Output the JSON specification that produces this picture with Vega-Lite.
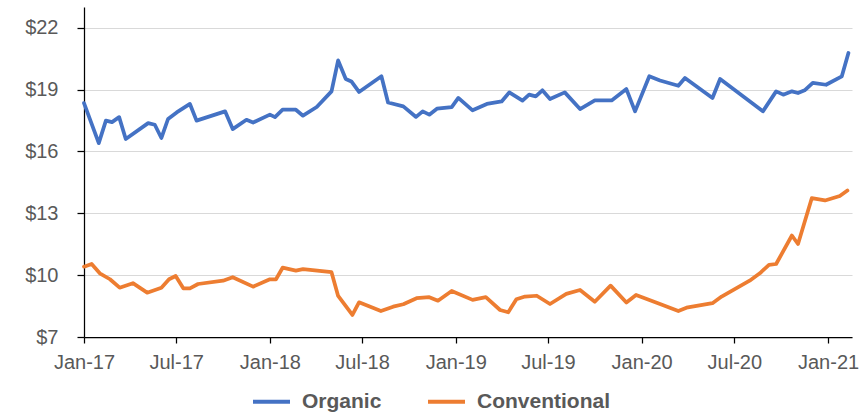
{
  "$schema": "https://vega.github.io/schema/vega-lite/v6.json",
  "width": 768,
  "height": 330,
  "autosize": {"type": "none"},
  "padding": {"left": 84, "top": 7, "right": 13, "bottom": 81},
  "background": "white",
  "config": {
    "view": {"stroke": null},
    "font": "Liberation Sans",
    "axis": {"labelFont": "Liberation Sans", "labelColor": "#595959", "labelFontSize": 20},
    "legend": {"labelFont": "Liberation Sans"}
  },
  "datasets": {
    "prices": [
      {"date": "2017/01/01", "type": "Organic", "price": 18.34},
      {"date": "2017/01/30", "type": "Organic", "price": 16.40},
      {"date": "2017/02/13", "type": "Organic", "price": 17.49},
      {"date": "2017/02/25", "type": "Organic", "price": 17.42},
      {"date": "2017/03/11", "type": "Organic", "price": 17.66},
      {"date": "2017/03/24", "type": "Organic", "price": 16.60},
      {"date": "2017/05/07", "type": "Organic", "price": 17.37},
      {"date": "2017/05/20", "type": "Organic", "price": 17.29},
      {"date": "2017/06/02", "type": "Organic", "price": 16.65},
      {"date": "2017/06/15", "type": "Organic", "price": 17.57},
      {"date": "2017/07/02", "type": "Organic", "price": 17.89},
      {"date": "2017/07/28", "type": "Organic", "price": 18.30},
      {"date": "2017/08/10", "type": "Organic", "price": 17.49},
      {"date": "2017/10/05", "type": "Organic", "price": 17.94},
      {"date": "2017/10/20", "type": "Organic", "price": 17.08},
      {"date": "2017/11/16", "type": "Organic", "price": 17.53},
      {"date": "2017/11/29", "type": "Organic", "price": 17.40},
      {"date": "2018/01/01", "type": "Organic", "price": 17.78},
      {"date": "2018/01/11", "type": "Organic", "price": 17.66},
      {"date": "2018/01/26", "type": "Organic", "price": 18.02},
      {"date": "2018/02/21", "type": "Organic", "price": 18.02},
      {"date": "2018/03/07", "type": "Organic", "price": 17.73},
      {"date": "2018/04/03", "type": "Organic", "price": 18.15},
      {"date": "2018/05/02", "type": "Organic", "price": 18.91},
      {"date": "2018/05/15", "type": "Organic", "price": 20.41},
      {"date": "2018/05/30", "type": "Organic", "price": 19.51},
      {"date": "2018/06/10", "type": "Organic", "price": 19.39},
      {"date": "2018/06/25", "type": "Organic", "price": 18.88},
      {"date": "2018/08/08", "type": "Organic", "price": 19.64},
      {"date": "2018/08/21", "type": "Organic", "price": 18.37},
      {"date": "2018/09/20", "type": "Organic", "price": 18.18},
      {"date": "2018/10/15", "type": "Organic", "price": 17.67},
      {"date": "2018/10/28", "type": "Organic", "price": 17.94},
      {"date": "2018/11/10", "type": "Organic", "price": 17.78},
      {"date": "2018/11/25", "type": "Organic", "price": 18.07},
      {"date": "2018/12/24", "type": "Organic", "price": 18.15},
      {"date": "2019/01/06", "type": "Organic", "price": 18.59},
      {"date": "2019/02/03", "type": "Organic", "price": 17.99},
      {"date": "2019/03/03", "type": "Organic", "price": 18.30},
      {"date": "2019/04/01", "type": "Organic", "price": 18.42},
      {"date": "2019/04/16", "type": "Organic", "price": 18.86},
      {"date": "2019/05/12", "type": "Organic", "price": 18.46},
      {"date": "2019/05/25", "type": "Organic", "price": 18.75},
      {"date": "2019/06/07", "type": "Organic", "price": 18.67},
      {"date": "2019/06/20", "type": "Organic", "price": 18.96},
      {"date": "2019/07/05", "type": "Organic", "price": 18.54},
      {"date": "2019/08/03", "type": "Organic", "price": 18.86},
      {"date": "2019/09/02", "type": "Organic", "price": 18.05},
      {"date": "2019/10/01", "type": "Organic", "price": 18.47},
      {"date": "2019/11/03", "type": "Organic", "price": 18.47},
      {"date": "2019/12/02", "type": "Organic", "price": 19.02},
      {"date": "2019/12/19", "type": "Organic", "price": 17.94},
      {"date": "2020/01/16", "type": "Organic", "price": 19.64},
      {"date": "2020/02/06", "type": "Organic", "price": 19.44},
      {"date": "2020/03/13", "type": "Organic", "price": 19.18},
      {"date": "2020/03/26", "type": "Organic", "price": 19.56},
      {"date": "2020/05/19", "type": "Organic", "price": 18.59},
      {"date": "2020/06/03", "type": "Organic", "price": 19.51},
      {"date": "2020/08/26", "type": "Organic", "price": 17.94},
      {"date": "2020/09/21", "type": "Organic", "price": 18.91},
      {"date": "2020/10/05", "type": "Organic", "price": 18.75},
      {"date": "2020/10/22", "type": "Organic", "price": 18.91},
      {"date": "2020/11/03", "type": "Organic", "price": 18.83},
      {"date": "2020/11/16", "type": "Organic", "price": 18.96},
      {"date": "2020/12/02", "type": "Organic", "price": 19.32},
      {"date": "2020/12/28", "type": "Organic", "price": 19.23},
      {"date": "2021/01/28", "type": "Organic", "price": 19.64},
      {"date": "2021/02/10", "type": "Organic", "price": 20.77},
      {"date": "2017/01/01", "type": "Conventional", "price": 10.41},
      {"date": "2017/01/16", "type": "Conventional", "price": 10.54},
      {"date": "2017/02/01", "type": "Conventional", "price": 10.09},
      {"date": "2017/02/21", "type": "Conventional", "price": 9.80},
      {"date": "2017/03/12", "type": "Conventional", "price": 9.39},
      {"date": "2017/04/07", "type": "Conventional", "price": 9.61},
      {"date": "2017/05/05", "type": "Conventional", "price": 9.15},
      {"date": "2017/06/02", "type": "Conventional", "price": 9.39},
      {"date": "2017/06/17", "type": "Conventional", "price": 9.80},
      {"date": "2017/06/30", "type": "Conventional", "price": 9.96},
      {"date": "2017/07/15", "type": "Conventional", "price": 9.36},
      {"date": "2017/07/28", "type": "Conventional", "price": 9.36},
      {"date": "2017/08/13", "type": "Conventional", "price": 9.57},
      {"date": "2017/10/01", "type": "Conventional", "price": 9.73},
      {"date": "2017/10/20", "type": "Conventional", "price": 9.90},
      {"date": "2017/11/29", "type": "Conventional", "price": 9.44},
      {"date": "2018/01/01", "type": "Conventional", "price": 9.80},
      {"date": "2018/01/13", "type": "Conventional", "price": 9.80},
      {"date": "2018/01/26", "type": "Conventional", "price": 10.36},
      {"date": "2018/02/21", "type": "Conventional", "price": 10.22},
      {"date": "2018/03/07", "type": "Conventional", "price": 10.29},
      {"date": "2018/05/02", "type": "Conventional", "price": 10.14},
      {"date": "2018/05/15", "type": "Conventional", "price": 8.99},
      {"date": "2018/06/12", "type": "Conventional", "price": 8.07},
      {"date": "2018/06/25", "type": "Conventional", "price": 8.68},
      {"date": "2018/08/07", "type": "Conventional", "price": 8.26},
      {"date": "2018/08/31", "type": "Conventional", "price": 8.47},
      {"date": "2018/09/20", "type": "Conventional", "price": 8.59},
      {"date": "2018/10/16", "type": "Conventional", "price": 8.88},
      {"date": "2018/11/10", "type": "Conventional", "price": 8.93},
      {"date": "2018/11/27", "type": "Conventional", "price": 8.76},
      {"date": "2018/12/24", "type": "Conventional", "price": 9.23},
      {"date": "2019/02/03", "type": "Conventional", "price": 8.80},
      {"date": "2019/03/01", "type": "Conventional", "price": 8.93},
      {"date": "2019/03/29", "type": "Conventional", "price": 8.31},
      {"date": "2019/04/14", "type": "Conventional", "price": 8.20},
      {"date": "2019/04/30", "type": "Conventional", "price": 8.83},
      {"date": "2019/05/17", "type": "Conventional", "price": 8.96},
      {"date": "2019/06/09", "type": "Conventional", "price": 9.00},
      {"date": "2019/07/05", "type": "Conventional", "price": 8.60},
      {"date": "2019/08/06", "type": "Conventional", "price": 9.09},
      {"date": "2019/09/02", "type": "Conventional", "price": 9.28},
      {"date": "2019/10/01", "type": "Conventional", "price": 8.71},
      {"date": "2019/11/01", "type": "Conventional", "price": 9.49},
      {"date": "2019/12/02", "type": "Conventional", "price": 8.67},
      {"date": "2019/12/21", "type": "Conventional", "price": 9.04},
      {"date": "2020/02/06", "type": "Conventional", "price": 8.60},
      {"date": "2020/03/13", "type": "Conventional", "price": 8.26},
      {"date": "2020/03/29", "type": "Conventional", "price": 8.42},
      {"date": "2020/05/19", "type": "Conventional", "price": 8.64},
      {"date": "2020/06/06", "type": "Conventional", "price": 8.96},
      {"date": "2020/07/31", "type": "Conventional", "price": 9.73},
      {"date": "2020/08/20", "type": "Conventional", "price": 10.09},
      {"date": "2020/09/07", "type": "Conventional", "price": 10.50},
      {"date": "2020/09/21", "type": "Conventional", "price": 10.54},
      {"date": "2020/10/22", "type": "Conventional", "price": 11.92},
      {"date": "2020/11/03", "type": "Conventional", "price": 11.51},
      {"date": "2020/11/30", "type": "Conventional", "price": 13.73},
      {"date": "2020/12/26", "type": "Conventional", "price": 13.62},
      {"date": "2021/01/24", "type": "Conventional", "price": 13.84},
      {"date": "2021/02/08", "type": "Conventional", "price": 14.10}
    ]
  },
  "data": {"name": "prices"},
  "mark": {"type": "line", "strokeWidth": 3.75, "strokeJoin": "round", "strokeCap": "round"},
  "encoding": {
    "x": {
      "field": "date",
      "type": "temporal",
      "scale": {"domain": [{"year": 2017, "month": 1, "date": 1}, {"year": 2021, "month": 2, "date": 17}]},
      "axis": {
        "title": null,
        "grid": false,
        "format": "%b-%y",
        "values": [
          {"year": 2017, "month": 1, "date": 1},
          {"year": 2017, "month": 7, "date": 1},
          {"year": 2018, "month": 1, "date": 1},
          {"year": 2018, "month": 7, "date": 1},
          {"year": 2019, "month": 1, "date": 1},
          {"year": 2019, "month": 7, "date": 1},
          {"year": 2020, "month": 1, "date": 1},
          {"year": 2020, "month": 7, "date": 1},
          {"year": 2021, "month": 1, "date": 1}
        ],
        "domainColor": "#000000",
        "domainWidth": 1.25,
        "tickColor": "#000000",
        "tickSize": 6,
        "tickWidth": 1.25,
        "labelPadding": 9,
        "labelAngle": 0,
        "labelFlush": false,
        "labelOverlap": false
      }
    },
    "y": {
      "field": "price",
      "type": "quantitative",
      "scale": {"domain": [7, 23], "nice": false, "zero": false},
      "axis": {
        "title": null,
        "values": [7, 10, 13, 16, 19, 22],
        "format": "$.0f",
        "grid": true,
        "gridColor": "#d9d9d9",
        "gridWidth": 1,
        "domainColor": "#000000",
        "domainWidth": 1.25,
        "tickColor": "#000000",
        "tickSize": 7,
        "tickWidth": 1.25,
        "labelPadding": 19
      }
    },
    "color": {
      "field": "type",
      "type": "nominal",
      "sort": ["Organic", "Conventional"],
      "scale": {"domain": ["Organic", "Conventional"], "range": ["#4472C4", "#ED7D31"]},
      "legend": {
        "title": null,
        "orient": "none",
        "direction": "horizontal",
        "legendX": 167,
        "legendY": 374,
        "symbolType": "stroke",
        "symbolSize": 1369,
        "symbolStrokeWidth": 4,
        "labelFontSize": 21,
        "labelFontWeight": "bold",
        "labelColor": "#595959",
        "labelOffset": 10,
        "columnPadding": 38,
        "padding": 0
      }
    }
  }
}
